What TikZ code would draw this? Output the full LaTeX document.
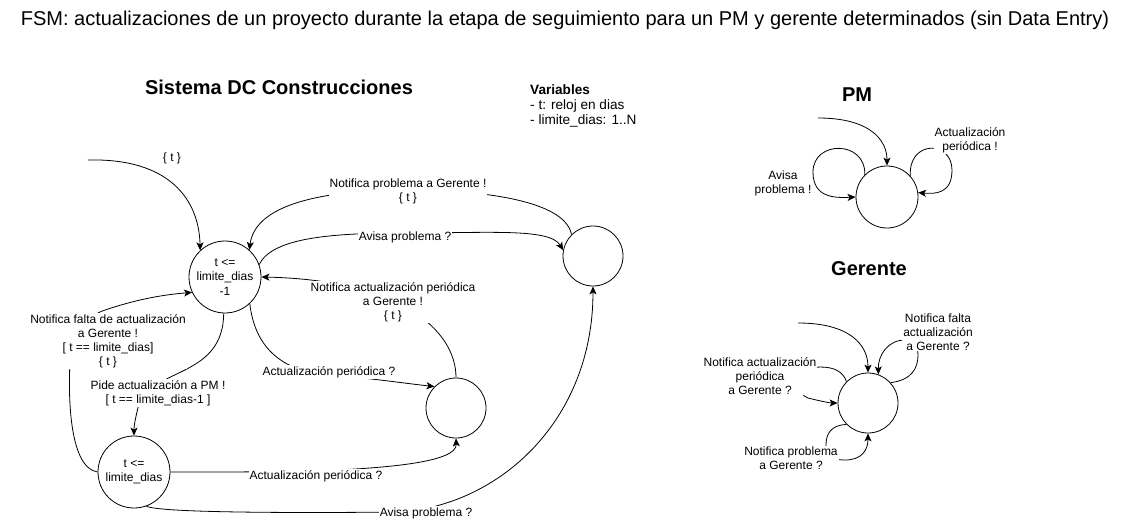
\documentclass[tikz,border=0pt]{standalone}
\usepackage{fontspec}
\setmainfont{Liberation Sans}
\usetikzlibrary{arrows.meta}
\begin{document}
\begin{tikzpicture}[x=1pt,y=-1pt,
  st/.style={circle,draw,line width=0.8pt,minimum size=60pt,inner sep=0pt,
    font=\fontsize{12}{14.5}\selectfont,align=center},
  edge/.style={draw,line width=0.8pt,-{Stealth[length=8pt,width=7pt,inset=2pt]}},
  lbl/.style={font=\fontsize{12}{14}\selectfont,align=center,fill=white,inner sep=1pt},
  lbln/.style={font=\fontsize{12}{14}\selectfont,align=center,inner sep=1pt},
  hd/.style={font=\fontsize{20}{24}\selectfont\bfseries,inner sep=0pt}]
\useasboundingbox[fill=white] (0,0) rectangle (1130,519);

% title and headings
\node[font=\fontsize{20}{24}\selectfont,inner sep=0pt] (title) at (565,20)
  {FSM: actualizaciones de un proyecto durante la etapa de seguimiento para un PM y gerente determinados (sin Data Entry)};
\node[hd] (h1) at (279,87) {Sistema DC Construcciones};
\node[hd] (h2) at (857,95) {PM};
\node[hd] (h3) at (869,269) {Gerente};
\node[anchor=north west,align=left,font=\fontsize{13.6}{15}\selectfont,inner sep=0pt] (vars) at (530,84)
  {\textbf{Variables}\\- t: reloj en dias\\- limite\_dias: 1..N};

% states
\node[st,minimum size=72pt] (s1) at (225,277) {t <=\\limite\_dias\\-1};
\node[st,minimum size=72pt] (s4) at (134,472) {t <=\\limite\_dias};
\node[st] (s2) at (593,256) {};
\node[st] (s3) at (456,408) {};
\node[st,minimum size=62pt] (pm) at (887,197) {};
\node[st] (ge) at (868,403) {};

% free ends of initial arrows
\coordinate (i1) at (88,160);
\coordinate (ipm) at (818,118);
\coordinate (ige) at (798,323);

% main system edges
\draw[edge] (i1) .. controls (170,158) and (199,200) .. (s1.133);
\draw[edge] (s2.135) .. controls (565,200) and (480,190) .. (408,190) .. controls (320,190) and (255,205) .. (s1.48);
\draw[edge] (s1.20) .. controls (272,238) and (330,233) .. (405,233) .. controls (490,233) and (550,228) .. (s2.169);
\draw[edge] (s3.90) .. controls (456,330) and (400,280) .. (s1.0);
\draw[edge] (s1.-47) .. controls (255,350) and (285,372) .. (329,375) .. controls (370,378) and (410,384) .. (s3.135);
\draw[edge] (s1.-92) .. controls (223,375) and (160,368) .. (140,400) .. controls (136,415) and (134,425) .. (s4.90);
\draw[edge] (s4.180) .. controls (70,468) and (68,400) .. (70,362) .. controls (72,330) and (90,315) .. (105,310) .. controls (135,300) and (160,295) .. (s1.205);
\draw[edge] (s4.0) .. controls (220,472) and (280,472) .. (316,471) .. controls (390,468) and (457,462) .. (s3.-90);
\draw[edge] (s4.-70) .. controls (160,513) and (300,513) .. (400,512) .. controls (500,505) and (593,420) .. (s2.-90);

% PM edges
\draw[edge] (ipm) .. controls (870,118) and (887,140) .. (pm.90);
\draw[edge] (pm.135) .. controls (866,140) and (813,140) .. (813,172) .. controls (813,198) and (835,198) .. (pm.180);
\draw[edge] (pm.42) .. controls (908,140) and (952,140) .. (952,170) .. controls (952,194) and (935,194) .. (pm.8);

% Gerente edges
\draw[edge] (ige) .. controls (850,323) and (868,345) .. (ge.90);
\draw[edge] (ge.42) .. controls (912,380) and (918,368) .. (918,355) .. controls (918,345) and (912,340) .. (905,340) .. controls (888,340) and (878,355) .. (ge.70);
\draw[edge] (ge.135) .. controls (843,372) and (835,367) .. (820,367) .. controls (800,367) and (795,395) .. (808,398) .. controls (820,401) and (830,403) .. (ge.180);
\draw[edge] (ge.225) .. controls (830,425) and (826,435) .. (826,445) .. controls (826,458) and (835,460) .. (845,460) .. controls (862,460) and (868,450) .. (ge.-90);

% labels
\node[lbln] (l0) at (172,158) {\{ t \}};
\node[lbl] (l1) at (408,191) {Notifica problema a Gerente !\\\{ t \}};
\node[lbl] (l2) at (405,237) {Avisa problema ?};
\node[lbl] (l3) at (393,302) {Notifica actualización periódica\\a Gerente !\\\{ t \}};
\node[lbl] (l4) at (329,372) {Actualización periódica ?};
\node[lbl] (l5) at (158,393) {Pide actualización a PM !\\{[} t == limite\_dias-1 ]};
\node[lbl] (l6) at (108,341) {Notifica falta de actualización\\a Gerente !\\{[} t == limite\_dias]\\\{ t \}};
\node[lbl] (l7) at (316,476) {Actualización periódica ?};
\node[lbl] (l8) at (426,513) {Avisa problema ?};
\node[lbln] (l9) at (783,183) {Avisa\\problema !};
\node[lbl] (l10) at (970,140) {Actualización\\periódica !};
\node[lbl] (l11) at (938,332) {Notifica falta\\actualización\\a Gerente ?};
\node[lbl] (l12) at (760,376) {Notifica actualización\\periódica\\a Gerente ?};
\node[lbl] (l13) at (791,458) {Notifica problema\\a Gerente ?};
\end{tikzpicture}
\end{document}
